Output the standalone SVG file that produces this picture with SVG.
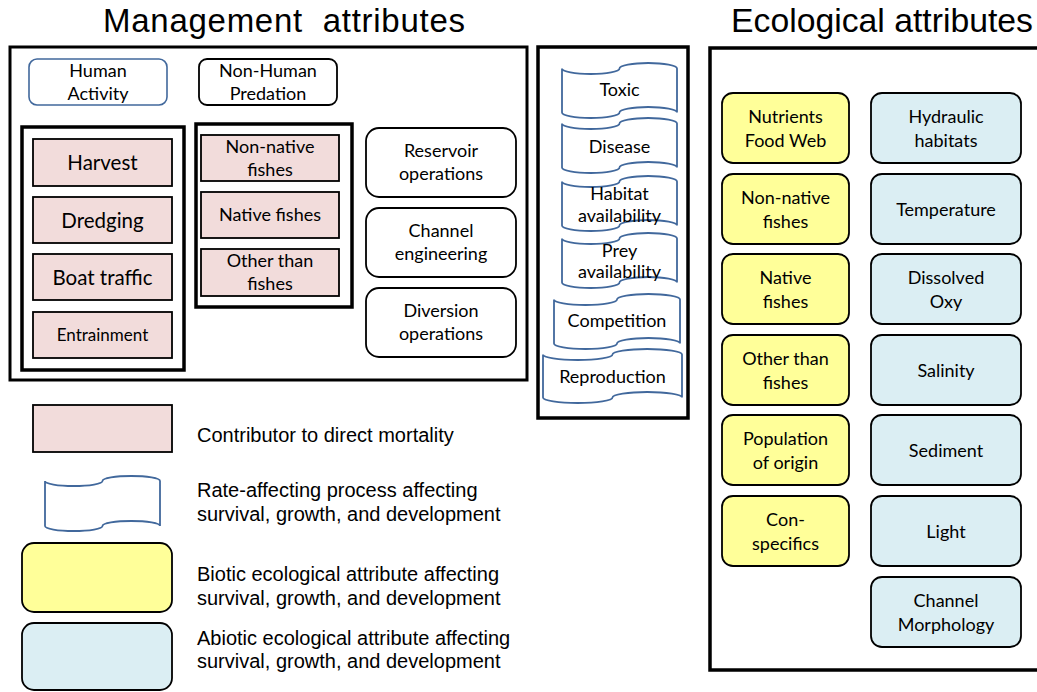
<svg xmlns="http://www.w3.org/2000/svg" width="1037" height="692" viewBox="0 0 1037 692">
  <style>
    .title { font-family: "Liberation Sans", Arial, sans-serif; font-size: 33px; fill: #000; white-space: pre; }
    .legend { font-family: "Liberation Sans", Arial, sans-serif; font-size: 20px; fill: #000; }
    .lbl { font-family: Lato, "Open Sans", sans-serif; font-size: 18px; fill: #000; text-anchor: middle; }
    .big { font-size: 20.5px; }
    .frame { fill: none; stroke: #000; stroke-width: 3.5; }
    .frame-thin { fill: none; stroke: #000; stroke-width: 3; }
    .mort { fill: #f2dcdb; stroke: #000; stroke-width: 1.8; }
    .tape { fill: #fff; stroke: #41689c; stroke-width: 1.8; }
    .mgmt { fill: #fff; stroke: #000; stroke-width: 1.8; }
    .human { fill: #fff; stroke: #41689c; stroke-width: 1.6; }
    .biotic { fill: #ffff99; stroke: #000; stroke-width: 1.8; }
    .abiotic { fill: #dbeef3; stroke: #000; stroke-width: 1.8; }
  </style>

  <!-- headings -->
  <text class="title" x="103" y="32" textLength="362" lengthAdjust="spacing">Management  attributes</text>
  <text class="title" x="731" y="32" textLength="302" lengthAdjust="spacingAndGlyphs">Ecological attributes</text>

  <!-- enclosing frames -->
  <g id="frames">
    <rect class="frame-thin" x="10" y="47" width="517" height="333"/>
    <rect class="frame" x="22" y="127" width="162" height="243"/>
    <rect class="frame" x="196" y="124" width="156" height="183"/>
    <rect class="frame" x="538" y="47" width="150" height="371"/>
    <rect class="frame" x="710" y="48" width="340" height="622"/>
  </g>

  <!-- category headers -->
  <g id="human-activity">
    <rect class="human" x="29" y="59" width="138" height="46" rx="8"/>
    <text class="lbl" x="98" y="77">Human</text>
    <text class="lbl" x="98" y="100">Activity</text>
  </g>
  <g id="non-human-predation">
    <rect class="mgmt" x="199" y="59" width="138" height="46" rx="8"/>
    <text class="lbl" x="268" y="77">Non-Human</text>
    <text class="lbl" x="268" y="100">Predation</text>
  </g>

  <!-- human activity contributors -->
  <g id="harvest">
    <rect class="mort" x="33" y="139" width="139" height="47"/>
    <text class="lbl big" x="102.5" y="170">Harvest</text>
  </g>
  <g id="dredging">
    <rect class="mort" x="33" y="197" width="139" height="46"/>
    <text class="lbl big" x="102.5" y="228">Dredging</text>
  </g>
  <g id="boat-traffic">
    <rect class="mort" x="33" y="254" width="139" height="46"/>
    <text class="lbl big" x="102.5" y="285">Boat traffic</text>
  </g>
  <g id="entrainment">
    <rect class="mort" x="33" y="312" width="139" height="46"/>
    <text class="lbl" x="102.5" y="341" style="font-size:17px">Entrainment</text>
  </g>

  <!-- predation contributors -->
  <g id="pred-non-native">
    <rect class="mort" x="201" y="135" width="138" height="46"/>
    <text class="lbl" x="270" y="153">Non-native</text>
    <text class="lbl" x="270" y="176">fishes</text>
  </g>
  <g id="pred-native">
    <rect class="mort" x="201" y="192" width="138" height="46"/>
    <text class="lbl" x="270" y="221">Native fishes</text>
  </g>
  <g id="pred-other">
    <rect class="mort" x="201" y="249" width="138" height="47"/>
    <text class="lbl" x="270" y="267">Other than</text>
    <text class="lbl" x="270" y="290">fishes</text>
  </g>

  <!-- operations -->
  <g id="reservoir-operations">
    <rect class="mgmt" x="366" y="128" width="150" height="69" rx="13"/>
    <text class="lbl" x="441" y="157">Reservoir</text>
    <text class="lbl" x="441" y="180">operations</text>
  </g>
  <g id="channel-engineering">
    <rect class="mgmt" x="366" y="208" width="150" height="69" rx="13"/>
    <text class="lbl" x="441" y="237">Channel</text>
    <text class="lbl" x="441" y="260">engineering</text>
  </g>
  <g id="diversion-operations">
    <rect class="mgmt" x="366" y="288" width="150" height="69" rx="13"/>
    <text class="lbl" x="441" y="317">Diversion</text>
    <text class="lbl" x="441" y="340">operations</text>
  </g>

  <!-- rate-affecting processes (punched-tape outlines) -->
  <g id="toxic">
    <path class="tape" d="M562,68.5 A28.75,5.5 0 0 0 619.5,68.5 A28.75,5.5 0 0 1 677,68.5 L677,112.5 A28.75,5.5 0 0 0 619.5,112.5 A28.75,5.5 0 0 1 562,112.5 Z"/>
    <text class="lbl" x="619.5" y="96">Toxic</text>
  </g>
  <g id="disease">
    <path class="tape" d="M562,123.5 A28.75,5.5 0 0 0 619.5,123.5 A28.75,5.5 0 0 1 677,123.5 L677,167.5 A28.75,5.5 0 0 0 619.5,167.5 A28.75,5.5 0 0 1 562,167.5 Z"/>
    <text class="lbl" x="619.5" y="153">Disease</text>
  </g>
  <g id="habitat-availability">
    <path class="tape" d="M562,181.5 A28.75,5.5 0 0 0 619.5,181.5 A28.75,5.5 0 0 1 677,181.5 L677,225.5 A28.75,5.5 0 0 0 619.5,225.5 A28.75,5.5 0 0 1 562,225.5 Z"/>
    <text class="lbl" x="619.5" y="200">Habitat</text>
    <text class="lbl" x="619.5" y="222">availability</text>
  </g>
  <g id="prey-availability">
    <path class="tape" d="M562,238.5 A28.75,5.5 0 0 0 619.5,238.5 A28.75,5.5 0 0 1 677,238.5 L677,282.5 A28.75,5.5 0 0 0 619.5,282.5 A28.75,5.5 0 0 1 562,282.5 Z"/>
    <text class="lbl" x="619.5" y="257">Prey</text>
    <text class="lbl" x="619.5" y="278">availability</text>
  </g>
  <g id="competition">
    <path class="tape" d="M554,299.5 A31.5,5.5 0 0 0 617,299.5 A31.5,5.5 0 0 1 680,299.5 L680,343.5 A31.5,5.5 0 0 0 617,343.5 A31.5,5.5 0 0 1 554,343.5 Z"/>
    <text class="lbl" x="617" y="327">Competition</text>
  </g>
  <g id="reproduction">
    <path class="tape" d="M543,354.5 A34.75,5.5 0 0 0 612.5,354.5 A34.75,5.5 0 0 1 682,354.5 L682,397.5 A34.75,5.5 0 0 0 612.5,397.5 A34.75,5.5 0 0 1 543,397.5 Z"/>
    <text class="lbl" x="612.5" y="383">Reproduction</text>
  </g>

  <!-- biotic ecological attributes -->
  <g id="nutrients-food-web">
    <rect class="biotic" x="722" y="93" width="127" height="70" rx="11"/>
    <text class="lbl" x="785.5" y="123">Nutrients</text>
    <text class="lbl" x="785.5" y="147">Food Web</text>
  </g>
  <g id="eco-non-native">
    <rect class="biotic" x="722" y="174" width="127" height="70" rx="11"/>
    <text class="lbl" x="785.5" y="204">Non-native</text>
    <text class="lbl" x="785.5" y="228">fishes</text>
  </g>
  <g id="eco-native">
    <rect class="biotic" x="722" y="254" width="127" height="70" rx="11"/>
    <text class="lbl" x="785.5" y="284">Native</text>
    <text class="lbl" x="785.5" y="308">fishes</text>
  </g>
  <g id="eco-other">
    <rect class="biotic" x="722" y="335" width="127" height="70" rx="11"/>
    <text class="lbl" x="785.5" y="365">Other than</text>
    <text class="lbl" x="785.5" y="389">fishes</text>
  </g>
  <g id="population-of-origin">
    <rect class="biotic" x="722" y="415" width="127" height="70" rx="11"/>
    <text class="lbl" x="785.5" y="445">Population</text>
    <text class="lbl" x="785.5" y="469">of origin</text>
  </g>
  <g id="con-specifics">
    <rect class="biotic" x="722" y="496" width="127" height="70" rx="11"/>
    <text class="lbl" x="785.5" y="526">Con-</text>
    <text class="lbl" x="785.5" y="550">specifics</text>
  </g>

  <!-- abiotic ecological attributes -->
  <g id="hydraulic-habitats">
    <rect class="abiotic" x="871" y="93" width="150" height="70" rx="11"/>
    <text class="lbl" x="946" y="123">Hydraulic</text>
    <text class="lbl" x="946" y="147">habitats</text>
  </g>
  <g id="temperature">
    <rect class="abiotic" x="871" y="174" width="150" height="70" rx="11"/>
    <text class="lbl" x="946" y="216">Temperature</text>
  </g>
  <g id="dissolved-oxy">
    <rect class="abiotic" x="871" y="254" width="150" height="70" rx="11"/>
    <text class="lbl" x="946" y="284">Dissolved</text>
    <text class="lbl" x="946" y="308">Oxy</text>
  </g>
  <g id="salinity">
    <rect class="abiotic" x="871" y="335" width="150" height="70" rx="11"/>
    <text class="lbl" x="946" y="377">Salinity</text>
  </g>
  <g id="sediment">
    <rect class="abiotic" x="871" y="415" width="150" height="70" rx="11"/>
    <text class="lbl" x="946" y="457">Sediment</text>
  </g>
  <g id="light">
    <rect class="abiotic" x="871" y="496" width="150" height="70" rx="11"/>
    <text class="lbl" x="946" y="538">Light</text>
  </g>
  <g id="channel-morphology">
    <rect class="abiotic" x="871" y="577" width="150" height="70" rx="11"/>
    <text class="lbl" x="946" y="607">Channel</text>
    <text class="lbl" x="946" y="631">Morphology</text>
  </g>

  <!-- key -->
  <g id="key">
    <rect class="mort" x="33" y="405" width="139" height="47"/>
    <text class="legend" x="197" y="442">Contributor to direct mortality</text>

    <path class="tape" d="M45,481 A28.75,5 0 0 0 102.5,481 A28.75,5 0 0 1 160,481 L160,526 A28.75,5 0 0 0 102.5,526 A28.75,5 0 0 1 45,526 Z"/>
    <text class="legend" x="197" y="497">Rate-affecting process affecting</text>
    <text class="legend" x="197" y="521">survival, growth, and development</text>

    <rect class="biotic" x="22" y="543" width="150" height="69" rx="12"/>
    <text class="legend" x="197" y="581">Biotic ecological attribute affecting</text>
    <text class="legend" x="197" y="605">survival, growth, and development</text>

    <rect class="abiotic" x="22" y="623" width="150" height="67" rx="12"/>
    <text class="legend" x="197" y="645">Abiotic ecological attribute affecting</text>
    <text class="legend" x="197" y="668">survival, growth, and development</text>
  </g>
</svg>
